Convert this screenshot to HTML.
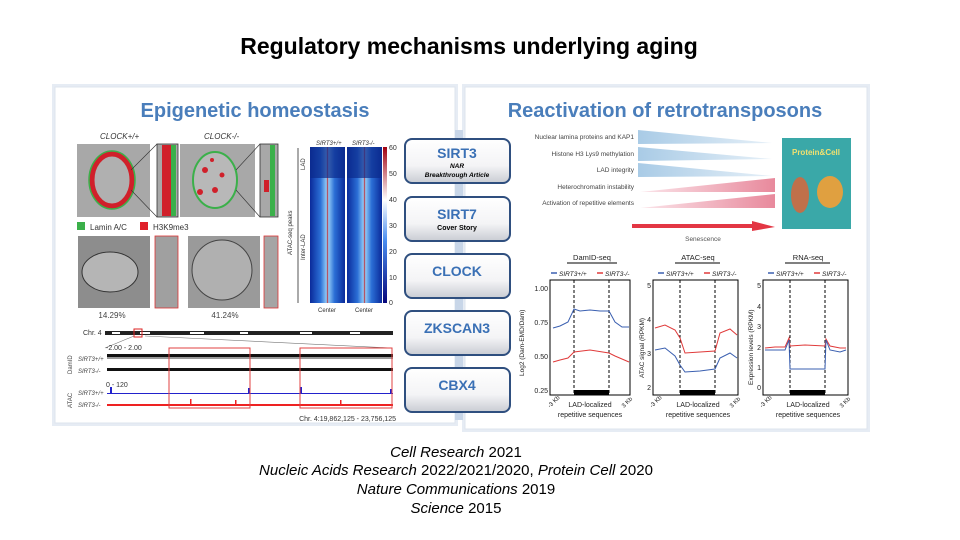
<!DOCTYPE html>
<html><head><meta charset="utf-8">
<style>
html,body{margin:0;padding:0;background:#fff;}
svg{display:block;font-family:"Liberation Sans",sans-serif;}
</style></head>
<body>
<svg width="960" height="540" viewBox="0 0 960 540" xmlns="http://www.w3.org/2000/svg">
<defs>
<linearGradient id="btn" x1="0" y1="0" x2="0" y2="1">
<stop offset="0" stop-color="#ffffff"/><stop offset="0.6" stop-color="#f4f4f6"/><stop offset="1" stop-color="#c9ccd3"/>
</linearGradient>
<linearGradient id="blueW" x1="0" y1="0" x2="1" y2="0">
<stop offset="0" stop-color="#a9cbe6"/><stop offset="1" stop-color="#e6f0f8"/>
</linearGradient>
<linearGradient id="redW" x1="0" y1="0" x2="1" y2="0">
<stop offset="0" stop-color="#fbe5ea"/><stop offset="1" stop-color="#e8899c"/>
</linearGradient>
<linearGradient id="hm" x1="0" y1="0" x2="1" y2="0">
<stop offset="0" stop-color="#0a2a9a"/><stop offset="0.3" stop-color="#2b6fd6"/><stop offset="0.47" stop-color="#8fc8f5"/><stop offset="0.5" stop-color="#c0303a"/><stop offset="0.53" stop-color="#8fc8f5"/><stop offset="0.7" stop-color="#2b6fd6"/><stop offset="1" stop-color="#0a2a9a"/>
</linearGradient>
<linearGradient id="cb" x1="0" y1="1" x2="0" y2="0">
<stop offset="0" stop-color="#06067a"/><stop offset="0.4" stop-color="#4a8df0"/><stop offset="0.66" stop-color="#ffffff"/><stop offset="1" stop-color="#a00010"/>
</linearGradient>
</defs>

<text x="469" y="54" font-size="23" font-weight="bold" text-anchor="middle" fill="#000">Regulatory mechanisms underlying aging</text>

<!-- panels -->
<rect x="52" y="84" width="406" height="342" fill="#e6ecf4"/>
<rect x="55" y="87" width="400" height="336" fill="#fff" stroke="#dde4ee"/>
<rect x="462" y="84" width="408" height="348" fill="#e6ecf4"/>
<rect x="465" y="87" width="402" height="342" fill="#fff" stroke="#dde4ee"/>
<rect x="455" y="130" width="8" height="290" fill="#c8d6e8"/>

<text x="255" y="117" font-size="20" font-weight="bold" text-anchor="middle" fill="#4a7ebb">Epigenetic homeostasis</text>
<text x="665" y="117" font-size="20" font-weight="bold" text-anchor="middle" fill="#4a7ebb">Reactivation of retrotransposons</text>

<!-- left: microscopy -->
<g font-size="8" font-style="italic" fill="#333">
<text x="100" y="139">CLOCK+/+</text><text x="204" y="139">CLOCK-/-</text>
</g>
<rect x="77" y="144" width="73" height="73" fill="#a8a8a8"/>
<ellipse cx="112" cy="180" rx="20" ry="26" fill="#b0b0b0" stroke="#d0202a" stroke-width="5"/>
<ellipse cx="112" cy="180" rx="23" ry="29" fill="none" stroke="#3bb04a" stroke-width="1.5"/>
<rect x="157" y="144" width="21" height="73" fill="#a8a8a8" stroke="#333" stroke-width="0.8"/>
<rect x="162" y="145" width="10" height="71" fill="#d0202a"/><rect x="171" y="145" width="5" height="71" fill="#3bb04a"/>
<line x1="131" y1="170" x2="157" y2="144" stroke="#333" stroke-width="0.6"/><line x1="131" y1="190" x2="157" y2="217" stroke="#333" stroke-width="0.6"/>
<rect x="180" y="144" width="75" height="73" fill="#a8a8a8"/>
<ellipse cx="215" cy="180" rx="22" ry="28" fill="#b8b8b8" stroke="#3bb04a" stroke-width="2"/>
<circle cx="205" cy="170" r="3" fill="#d0202a"/><circle cx="215" cy="190" r="3" fill="#d0202a"/><circle cx="222" cy="175" r="2.5" fill="#d0202a"/><circle cx="200" cy="192" r="3" fill="#d0202a"/><circle cx="212" cy="160" r="2" fill="#d0202a"/>
<rect x="260" y="144" width="18" height="73" fill="#a8a8a8" stroke="#333" stroke-width="0.8"/>
<rect x="270" y="145" width="5" height="71" fill="#3bb04a"/><rect x="264" y="180" width="5" height="12" fill="#d0202a"/>
<line x1="236" y1="170" x2="260" y2="144" stroke="#333" stroke-width="0.6"/><line x1="236" y1="190" x2="260" y2="217" stroke="#333" stroke-width="0.6"/>
<rect x="77" y="222" width="8" height="8" fill="#3bb04a"/><text x="90" y="230" font-size="8" fill="#333">Lamin A/C</text>
<rect x="140" y="222" width="8" height="8" fill="#e0202a"/><text x="153" y="230" font-size="8" fill="#333">H3K9me3</text>
<rect x="78" y="236" width="72" height="72" fill="#8d8d8d"/>
<ellipse cx="110" cy="272" rx="28" ry="20" fill="#b5b5b5" stroke="#333"/>
<rect x="155" y="236" width="23" height="72" fill="#a0a0a0" stroke="#d33" stroke-width="0.8"/>
<rect x="188" y="236" width="72" height="72" fill="#9a9a9a"/>
<ellipse cx="222" cy="270" rx="30" ry="30" fill="#b0b0b0" stroke="#444"/>
<rect x="264" y="236" width="14" height="72" fill="#a5a5a5" stroke="#d33" stroke-width="0.8"/>
<text x="112" y="318" font-size="8" text-anchor="middle" fill="#444">14.29%</text>
<text x="225" y="318" font-size="8" text-anchor="middle" fill="#444">41.24%</text>

<!-- heatmap -->
<text x="316" y="145" font-size="6" font-style="italic" fill="#333">SIRT3+/+</text><text x="352" y="145" font-size="6" font-style="italic" fill="#333">SIRT3-/-</text>
<rect x="310" y="147" width="35" height="156" fill="url(#hm)"/>
<rect x="347" y="147" width="35" height="156" fill="url(#hm)"/>
<rect x="310" y="147" width="35" height="31" fill="#0b2b8c" opacity="0.7"/>
<rect x="347" y="147" width="35" height="31" fill="#0b2b8c" opacity="0.7"/>
<rect x="383" y="147" width="4" height="156" fill="url(#cb)"/>
<g font-size="7" fill="#333"><text x="389" y="150">60</text><text x="389" y="176">50</text><text x="389" y="202">40</text><text x="389" y="228">30</text><text x="389" y="254">20</text><text x="389" y="280">10</text><text x="389" y="305">0</text></g>
<line x1="298" y1="148" x2="298" y2="303" stroke="#555"/>
<g font-size="6" fill="#333"><text transform="translate(305,170) rotate(-90)">LAD</text><text transform="translate(305,260) rotate(-90)">Inter-LAD</text><text transform="translate(292,255) rotate(-90)">ATAC-seq peaks</text>
<text x="318" y="312">Center</text><text x="355" y="312">Center</text></g>

<!-- tracks -->
<text x="83" y="335" font-size="7" fill="#333">Chr. 4</text>
<rect x="105" y="331" width="288" height="4" fill="#222"/>
<g fill="#fff"><rect x="112" y="332" width="8" height="2"/><rect x="140" y="332" width="10" height="2"/><rect x="190" y="332" width="14" height="2"/><rect x="240" y="332" width="8" height="2"/><rect x="300" y="332" width="12" height="2"/><rect x="350" y="332" width="10" height="2"/></g>
<rect x="134" y="329" width="8" height="8" fill="none" stroke="#d22" stroke-width="1"/>
<line x1="105" y1="348" x2="134" y2="336" stroke="#777" stroke-width="0.6"/><line x1="392" y1="348" x2="145" y2="336" stroke="#777" stroke-width="0.6"/>
<text x="106" y="350" font-size="7" fill="#333">-2.00 - 2.00</text>
<rect x="107" y="354" width="286" height="3" fill="#111"/>
<rect x="107" y="357" width="286" height="2" fill="#999"/>
<rect x="107" y="368" width="286" height="3" fill="#111"/>
<text x="106" y="387" font-size="7" fill="#333">0 - 120</text>
<rect x="107" y="393" width="286" height="1" fill="#22c"/><rect x="110" y="387" width="2" height="7" fill="#22c"/><rect x="248" y="388" width="2" height="6" fill="#22c"/><rect x="300" y="387" width="2" height="7" fill="#22c"/><rect x="390" y="389" width="2" height="5" fill="#22c"/>
<rect x="107" y="404" width="286" height="2" fill="#e22"/><rect x="190" y="399" width="1.5" height="6" fill="#e22"/><rect x="235" y="400" width="1.5" height="5" fill="#e22"/><rect x="340" y="400" width="1.5" height="5" fill="#e22"/>
<rect x="169" y="348" width="81" height="60" fill="none" stroke="#e04040"/>
<rect x="300" y="348" width="92" height="60" fill="none" stroke="#e04040"/>
<g font-size="6" font-style="italic" fill="#444"><text x="78" y="361">SIRT3+/+</text><text x="78" y="373">SIRT3-/-</text><text x="78" y="395">SIRT3+/+</text><text x="78" y="407">SIRT3-/-</text></g>
<g font-size="6" fill="#444"><text transform="translate(72,374) rotate(-90)">DamID</text><text transform="translate(72,408) rotate(-90)">ATAC</text></g>
<text x="396" y="421" font-size="7" text-anchor="end" fill="#333">Chr. 4:19,862,125 - 23,756,125</text>

<!-- buttons -->
<g>
<rect x="405" y="139" width="105" height="44" rx="7" fill="url(#btn)" stroke="#2f4f7f" stroke-width="2"/>
<text x="457" y="158" font-size="14" font-weight="bold" text-anchor="middle" fill="#3a70b5">SIRT3</text>
<text x="457" y="168" font-size="6.5" font-weight="bold" font-style="italic" text-anchor="middle">NAR</text>
<text x="457" y="177" font-size="6.5" font-weight="bold" font-style="italic" text-anchor="middle">Breakthrough  Article</text>
<rect x="405" y="197" width="105" height="44" rx="7" fill="url(#btn)" stroke="#2f4f7f" stroke-width="2"/>
<text x="457" y="219" font-size="14" font-weight="bold" text-anchor="middle" fill="#3a70b5">SIRT7</text>
<text x="457" y="230" font-size="7" font-weight="bold" text-anchor="middle">Cover Story</text>
<rect x="405" y="254" width="105" height="44" rx="7" fill="url(#btn)" stroke="#2f4f7f" stroke-width="2"/>
<text x="457" y="276" font-size="14" font-weight="bold" text-anchor="middle" fill="#3a70b5">CLOCK</text>
<rect x="405" y="311" width="105" height="44" rx="7" fill="url(#btn)" stroke="#2f4f7f" stroke-width="2"/>
<text x="457" y="333" font-size="14" font-weight="bold" text-anchor="middle" fill="#3a70b5">ZKSCAN3</text>
<rect x="405" y="368" width="105" height="44" rx="7" fill="url(#btn)" stroke="#2f4f7f" stroke-width="2"/>
<text x="457" y="390" font-size="14" font-weight="bold" text-anchor="middle" fill="#3a70b5">CBX4</text>
</g>

<!-- right top wedges -->
<g font-size="6.5" text-anchor="end" fill="#444">
<text x="634" y="139">Nuclear lamina proteins and KAP1</text>
<text x="634" y="156">Histone H3 Lys9 methylation</text>
<text x="634" y="172">LAD integrity</text>
<text x="634" y="189">Heterochromatin instability</text>
<text x="634" y="205">Activation of repetitive elements</text>
</g>
<polygon points="638,130 772,143 638,144" fill="url(#blueW)"/>
<polygon points="638,147 772,159 638,161" fill="url(#blueW)"/>
<polygon points="638,163 772,176 638,177" fill="url(#blueW)"/>
<polygon points="640,192 775,178 775,192" fill="url(#redW)"/>
<polygon points="640,208 775,194 775,208" fill="url(#redW)"/>
<polygon points="632,224 752,224 752,221 775,227 752,231 752,228 632,228" fill="#e02030" opacity="0.9"/>
<text x="703" y="241" font-size="6.5" text-anchor="middle" fill="#555">Senescence</text>
<rect x="782" y="138" width="69" height="91" fill="#3aa8a8"/>
<text x="816" y="155" font-size="8" font-weight="bold" text-anchor="middle" fill="#f0e070">Protein&amp;Cell</text>
<ellipse cx="800" cy="195" rx="9" ry="18" fill="#c0704a"/><ellipse cx="830" cy="192" rx="13" ry="16" fill="#e0a040"/>

<!-- plots -->
<g font-size="7.5" fill="#222">
<text x="592" y="260" text-anchor="middle">DamID-seq</text><line x1="567" y1="263" x2="617" y2="263" stroke="#000"/>
<text x="698" y="260" text-anchor="middle">ATAC-seq</text><line x1="675" y1="263" x2="720" y2="263" stroke="#000"/>
<text x="808" y="260" text-anchor="middle">RNA-seq</text><line x1="785" y1="263" x2="830" y2="263" stroke="#000"/>
</g>
<g font-size="6.5" font-style="italic" fill="#222">
<line x1="551" y1="273" x2="557" y2="273" stroke="#3a5fb0" stroke-width="1.5"/><text x="559" y="276">SIRT3+/+</text>
<line x1="597" y1="273" x2="603" y2="273" stroke="#e03a3a" stroke-width="1.5"/><text x="605" y="276">SIRT3-/-</text>
<line x1="658" y1="273" x2="664" y2="273" stroke="#3a5fb0" stroke-width="1.5"/><text x="666" y="276">SIRT3+/+</text>
<line x1="704" y1="273" x2="710" y2="273" stroke="#e03a3a" stroke-width="1.5"/><text x="712" y="276">SIRT3-/-</text>
<line x1="768" y1="273" x2="774" y2="273" stroke="#3a5fb0" stroke-width="1.5"/><text x="776" y="276">SIRT3+/+</text>
<line x1="814" y1="273" x2="820" y2="273" stroke="#e03a3a" stroke-width="1.5"/><text x="822" y="276">SIRT3-/-</text>
</g>
<g fill="none" stroke-width="1">
<rect x="550" y="280" width="80" height="115" stroke="#000"/>
<line x1="574" y1="280" x2="574" y2="395" stroke="#000" stroke-dasharray="3,2"/><line x1="609" y1="280" x2="609" y2="395" stroke="#000" stroke-dasharray="3,2"/>
<rect x="574" y="390" width="35" height="5" fill="#000"/>
<polyline points="553,328 560,326 568,322 574,309 580,311 590,310 600,311 609,311 615,322 622,327 629,327" stroke="#3a5fb0"/>
<polyline points="553,362 560,360 568,358 574,352 590,350 609,353 615,356 622,359 629,362" stroke="#e03a3a"/>
<rect x="653" y="280" width="85" height="115" stroke="#000"/>
<line x1="680" y1="280" x2="680" y2="395" stroke="#000" stroke-dasharray="3,2"/><line x1="715" y1="280" x2="715" y2="395" stroke="#000" stroke-dasharray="3,2"/>
<rect x="680" y="390" width="35" height="5" fill="#000"/>
<polyline points="655,328 665,325 675,330 680,338 685,353 700,352 715,351 720,333 730,329 737,335" stroke="#e03a3a"/>
<polyline points="655,350 665,348 675,356 680,365 685,372 700,371 715,369 720,358 730,353 737,358" stroke="#3a5fb0"/>
<rect x="763" y="280" width="85" height="115" stroke="#000"/>
<line x1="790" y1="280" x2="790" y2="395" stroke="#000" stroke-dasharray="3,2"/><line x1="825" y1="280" x2="825" y2="395" stroke="#000" stroke-dasharray="3,2"/>
<rect x="790" y="390" width="35" height="5" fill="#000"/>
<polyline points="765,348 775,347 785,347 789,338 790,346 805,345 825,346 826,339 830,346 840,348 846,348" stroke="#e03a3a"/>
<polyline points="765,350 775,350 785,350 789,340 790,369 805,369 825,369 826,340 830,350 840,352 846,350" stroke="#3a5fb0"/>
</g>
<g font-size="7" fill="#222">
<text x="548" y="291" text-anchor="end">1.00</text><text x="548" y="325" text-anchor="end">0.75</text><text x="548" y="359" text-anchor="end">0.50</text><text x="548" y="393" text-anchor="end">0.25</text>
<text x="651" y="288" text-anchor="end">5</text><text x="651" y="322" text-anchor="end">4</text><text x="651" y="356" text-anchor="end">3</text><text x="651" y="390" text-anchor="end">2</text>
<text x="761" y="288" text-anchor="end">5</text><text x="761" y="309" text-anchor="end">4</text><text x="761" y="329" text-anchor="end">3</text><text x="761" y="350" text-anchor="end">2</text><text x="761" y="370" text-anchor="end">1</text><text x="761" y="390" text-anchor="end">0</text>
<text transform="translate(524,376) rotate(-90)" font-size="6.5">Log2 (Dam-EMD/Dam)</text>
<text transform="translate(644,378) rotate(-90)" font-size="6.5">ATAC signal (RPKM)</text>
<text transform="translate(753,385) rotate(-90)" font-size="6.5">Expression levels (RPKM)</text>
<text x="590" y="407" text-anchor="middle">LAD-localized</text><text x="590" y="417" text-anchor="middle">repetitive sequences</text>
<text x="698" y="407" text-anchor="middle">LAD-localized</text><text x="698" y="417" text-anchor="middle">repetitive sequences</text>
<text x="808" y="407" text-anchor="middle">LAD-localized</text><text x="808" y="417" text-anchor="middle">repetitive sequences</text>
<text transform="translate(550,408) rotate(-45)" font-size="6">-3 Kb</text><text transform="translate(624,408) rotate(-45)" font-size="6">3 Kb</text>
<text transform="translate(652,408) rotate(-45)" font-size="6">-3 Kb</text><text transform="translate(732,408) rotate(-45)" font-size="6">3 Kb</text>
<text transform="translate(762,408) rotate(-45)" font-size="6">-3 Kb</text><text transform="translate(842,408) rotate(-45)" font-size="6">3 Kb</text>
</g>

<!-- citations -->
<g font-size="15" text-anchor="middle" fill="#000">
<text x="456" y="457"><tspan font-style="italic">Cell Research</tspan> 2021</text>
<text x="456" y="475"><tspan font-style="italic">Nucleic Acids Research</tspan>  2022/2021/2020,  <tspan font-style="italic">Protein Cell</tspan> 2020</text>
<text x="456" y="494"><tspan font-style="italic">Nature Communications</tspan> 2019</text>
<text x="456" y="513"><tspan font-style="italic">Science</tspan> 2015</text>
</g>
</svg>
</body></html>
